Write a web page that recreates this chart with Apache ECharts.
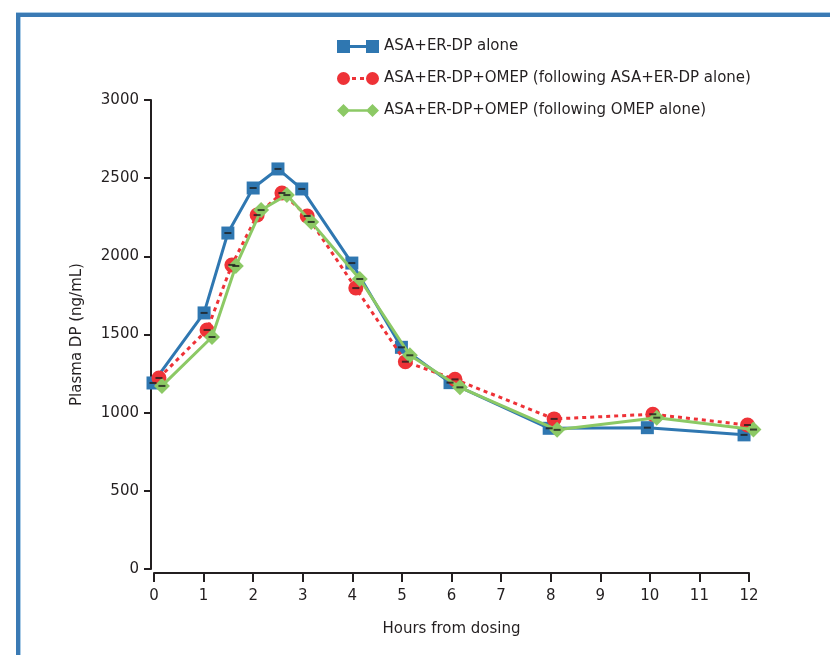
<!DOCTYPE html>
<html>
<head>
<meta charset="utf-8">
<script src="https://cdn.jsdelivr.net/npm/echarts@6/dist/echarts.min.js"></script>
<style>
html,body{margin:0;padding:0;background:#fff;}
#chart{width:830px;height:655px;}
</style>
</head>
<body>
<div id="chart"></div>
<script>
// Series names
const seriesNames = [
  'ASA+ER-DP alone',
  'ASA+ER-DP+OMEP (following ASA+ER-DP alone)',
  'ASA+ER-DP+OMEP (following OMEP alone)'
];
// Hours (as plotted, small horizontal jitter in the original)
const blueX  = [-0.02, 1.01, 1.49, 2.00, 2.50, 2.98, 3.99, 4.99, 5.97, 7.97, 9.95, 11.90];
const blueY  = [1190, 1638, 2149, 2437, 2559, 2431, 1957, 1418, 1192, 900, 904, 858];
const redX   = [0.10, 1.07, 1.57, 2.08, 2.58, 3.09, 4.07, 5.07, 6.07, 8.07, 10.06, 11.97];
const redY   = [1222, 1529, 1945, 2264, 2405, 2258, 1797, 1326, 1213, 960, 990, 921];
const greenX = [0.16, 1.17, 1.65, 2.16, 2.68, 3.17, 4.15, 5.16, 6.17, 8.13, 10.14, 12.09];
const greenY = [1171, 1484, 1938, 2296, 2392, 2220, 1855, 1367, 1162, 890, 968, 892];
// Axis ticks
const xTicks = [0,1,2,3,4,5,6,7,8,9,10,11,12];
const yTicks = [0,500,1000,1500,2000,2500,3000];

const BLUE = '#2f77b1', RED = '#ee3237', GREEN = '#8cc965', AXIS = '#231f20';
const FONT = 'DejaVu Sans';

function pairs(xs, ys){ return xs.map((x,i)=>[x, ys[i]]); }

const chart = echarts.init(document.getElementById('chart'), null, {renderer:'canvas'});

const iconBlue = 'path://M0,0h13v13h-13z M13,5h16v3h-16z M29,0h13v13h-13z';
const iconRed = 'path://M0,6.5a6.5,6.5 0 1,0 13,0a6.5,6.5 0 1,0 -13,0z M15,5h4v3h-4z M23,5h4v3h-4z M29,6.5a6.5,6.5 0 1,0 13,0a6.5,6.5 0 1,0 -13,0z';
const iconGreen = 'path://M0,6.5L6.5,0L13,6.5L6.5,13z M12,5.2h18v2.6h-18z M29,6.5L35.5,0L42,6.5L35.5,13z';

const lineDefs = [
  {x: blueX, y: blueY, color: BLUE, symbol: 'rect', size: 13, type: 'solid', icon: iconBlue},
  {x: redX, y: redY, color: RED, symbol: 'circle', size: 15, type: [4,4], icon: iconRed},
  {x: greenX, y: greenY, color: GREEN, symbol: 'diamond', size: 16, type: 'solid', icon: iconGreen}
];

const series = [];
lineDefs.forEach((d, i) => {
  series.push({
    name: seriesNames[i],
    type: 'line',
    data: pairs(d.x, d.y),
    symbol: d.symbol,
    symbolSize: d.size,
    showAllSymbol: true,
    clip: false,
    lineStyle: {color: d.color, width: 3, type: d.type},
    itemStyle: {color: d.color, borderWidth: 0},
    z: 2 + i
  });
});
lineDefs.forEach((d, i) => {
  series.push({
    name: 'cap' + i,
    type: 'scatter',
    data: pairs(d.x, d.y),
    symbol: 'rect',
    symbolSize: [7, 2],
    clip: false,
    itemStyle: {color: '#1e1e1e'},
    silent: true,
    z: 10
  });
});

chart.setOption({
  animation: false,
  backgroundColor: '#fff',
  textStyle: {fontFamily: FONT},
  grid: {left: 154, right: 81, top: 100, bottom: 86, containLabel: false},
  legend: {
    orient: 'vertical',
    left: 332,
    top: 34,
    itemWidth: 42,
    itemHeight: 13,
    itemGap: 17,
    selectedMode: false,
    textStyle: {fontFamily: FONT, fontSize: 15, color: '#231f20'},
    data: seriesNames.map((n, i) => ({name: n, icon: lineDefs[i].icon, itemStyle: {color: lineDefs[i].color}}))
  },
  xAxis: {
    type: 'value',
    min: 0, max: 12, interval: 1,
    offset: 4,
    name: 'Hours from dosing',
    nameLocation: 'middle',
    nameGap: 49,
    nameTextStyle: {fontFamily: FONT, fontSize: 15, color: AXIS},
    axisLine: {show: true, onZero: false, lineStyle: {color: AXIS, width: 2}},
    axisTick: {show: true, length: 9, lineStyle: {color: AXIS, width: 2}},
    axisLabel: {fontFamily: FONT, fontSize: 15, color: AXIS, margin: 16,
      formatter: v => xTicks.includes(v) ? String(v) : ''},
    splitLine: {show: false}
  },
  yAxis: {
    type: 'value',
    min: 0, max: 3000, interval: 500,
    offset: 3,
    name: 'Plasma DP (ng/mL)',
    nameLocation: 'middle',
    nameGap: 66,
    nameRotate: 90,
    nameTextStyle: {fontFamily: FONT, fontSize: 15, color: AXIS},
    axisLine: {show: true, onZero: false, lineStyle: {color: AXIS, width: 2}},
    axisTick: {show: true, length: 7, lineStyle: {color: AXIS, width: 2}},
    axisLabel: {fontFamily: FONT, fontSize: 15, color: AXIS, margin: 12,
      formatter: v => yTicks.includes(v) ? String(v) : ''},
    splitLine: {show: false}
  },
  graphic: [
    {type: 'rect', shape: {x: 16, y: 13, width: 814, height: 4}, style: {fill: '#3a7ab4'}, silent: true},
    {type: 'rect', shape: {x: 16, y: 13, width: 4, height: 642}, style: {fill: '#3a7ab4'}, silent: true},
    {type: 'rect', shape: {x: 16, y: 12, width: 814, height: 1}, style: {fill: '#a9cbe6'}, silent: true},
    {type: 'rect', shape: {x: 20, y: 17, width: 1, height: 638}, style: {fill: '#a9cbe6'}, silent: true}
  ],
  series: series
});
</script>
</body>
</html>
